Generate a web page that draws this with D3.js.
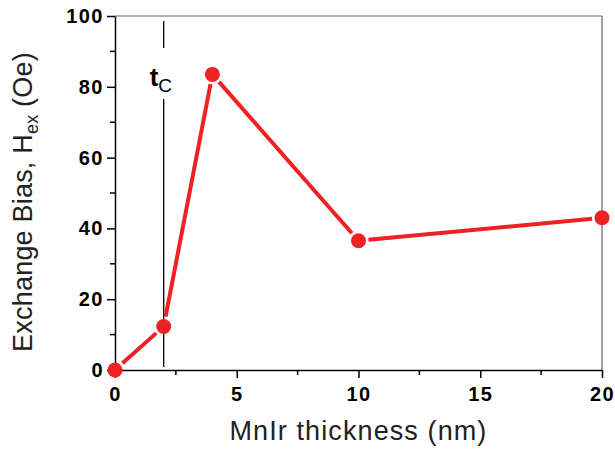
<!DOCTYPE html>
<html>
<head>
<meta charset="utf-8">
<script src="https://cdn.jsdelivr.net/npm/d3@7"></script>
<style>
  body { margin: 0; background: #fff; }
  svg { display: block; font-family: "Liberation Sans", Arial, sans-serif; }
</style>
</head>
<body>
<div id="chart"></div>
<script>
const thickness = [0, 2, 4, 10, 20];
const exchangeBias = [0, 12.3, 83.5, 36.5, 43];
const xTicks = [0, 5, 10, 15, 20];
const yTicks = [0, 20, 40, 60, 80, 100];
const xMinor = [2.5, 7.5, 12.5, 17.5];
const yMinor = [10, 30, 50, 70, 90];
const criticalThickness = 2;

const width = 615, height = 450;
const margin = { top: 16, right: 13, bottom: 80, left: 115 };
const w = width - margin.left - margin.right;
const h = height - margin.top - margin.bottom;

const svg = d3.select('#chart').append('svg')
  .attr('width', width).attr('height', height);
const g = svg.append('g')
  .attr('transform', 'translate(' + margin.left + ',' + margin.top + ')');

const x = d3.scaleLinear().domain([0, 20]).range([0, w]);
const y = d3.scaleLinear().domain([0, 100]).range([h, 0]);

// frame (top and right)
g.append('line').attr('x1', 0).attr('x2', w).attr('y1', 0).attr('y2', 0)
  .attr('stroke', '#666').attr('stroke-width', 1.2);
g.append('line').attr('x1', w).attr('x2', w).attr('y1', 0).attr('y2', h)
  .attr('stroke', '#666').attr('stroke-width', 1.2);

const xAxis = g.append('g').attr('transform', 'translate(0,' + h + ')')
  .call(d3.axisBottom(x).tickValues(xTicks).tickSize(8).tickSizeOuter(0).tickPadding(9));
xAxis.append('g').selectAll('line').data(xMinor).enter().append('line')
  .attr('x1', d => x(d)).attr('x2', d => x(d)).attr('y1', 0).attr('y2', 5)
  .attr('stroke', '#000').attr('stroke-width', 1.5);

const yAxis = g.append('g')
  .call(d3.axisLeft(y).tickValues(yTicks).tickSize(8).tickSizeOuter(0).tickPadding(3));
yAxis.append('g').selectAll('line').data(yMinor).enter().append('line')
  .attr('x1', 0).attr('x2', -5).attr('y1', d => y(d)).attr('y2', d => y(d))
  .attr('stroke', '#000').attr('stroke-width', 1.5);

[xAxis, yAxis].forEach(a => {
  a.select('.domain').attr('stroke', '#000').attr('stroke-width', 1.5);
  a.selectAll('.tick line').attr('stroke-width', 1.5);
  a.selectAll('.tick text').attr('font-size', 20).attr('font-weight', 'bold')
    .attr('letter-spacing', 1.5)
    .attr('fill', '#000').attr('font-family', '"Liberation Sans", Arial, sans-serif');
});

// t_c marker line (broken around the label)
const xc = x(criticalThickness);
g.append('line').attr('x1', xc).attr('x2', xc).attr('y1', 5).attr('y2', 32)
  .attr('stroke', '#000').attr('stroke-width', 1.3);
g.append('line').attr('x1', xc).attr('x2', xc).attr('y1', 83).attr('y2', h - 3)
  .attr('stroke', '#000').attr('stroke-width', 1.3);
const tc = g.append('text').attr('x', xc - 14).attr('y', 70)
  .attr('font-size', 26).attr('font-weight', 'bold').attr('fill', '#000');
tc.append('tspan').text('t');
tc.append('tspan').attr('dy', 6).attr('font-size', 19).attr('font-weight', 'normal').text('C');

// data: line segments with gaps around markers
const pts = thickness.map((t, i) => [x(t), y(exchangeBias[i])]);
const gap = 10;
const segs = d3.pairs(pts).map(([a, b]) => {
  const dx = b[0] - a[0], dy = b[1] - a[1];
  const len = Math.hypot(dx, dy);
  const ux = dx / len, uy = dy / len;
  return [a[0] + ux * gap, a[1] + uy * gap, b[0] - ux * gap, b[1] - uy * gap];
});
const red = '#ee2222';
g.append('g').selectAll('line').data(segs).enter().append('line')
  .attr('x1', d => d[0]).attr('y1', d => d[1]).attr('x2', d => d[2]).attr('y2', d => d[3])
  .attr('stroke', red).attr('stroke-width', 4);
g.append('g').selectAll('circle').data(pts).enter().append('circle')
  .attr('cx', d => d[0]).attr('cy', d => d[1]).attr('r', 7.5)
  .attr('fill', red);

// axis titles
svg.append('text')
  .attr('x', margin.left + w / 2).attr('y', 440)
  .attr('text-anchor', 'middle').attr('font-size', 27).attr('fill', '#222')
  .attr('letter-spacing', 1.1)
  .text('MnIr thickness (nm)');

const yt = svg.append('text')
  .attr('transform', 'translate(32,202) rotate(-90)')
  .attr('text-anchor', 'middle').attr('font-size', 27).attr('fill', '#222')
  .attr('letter-spacing', 0.2);
yt.append('tspan').text('Exchange Bias, H');
yt.append('tspan').attr('dy', 6).attr('font-size', 18).text('ex');
yt.append('tspan').attr('dy', -6).text(' (Oe)');
</script>
</body>
</html>
